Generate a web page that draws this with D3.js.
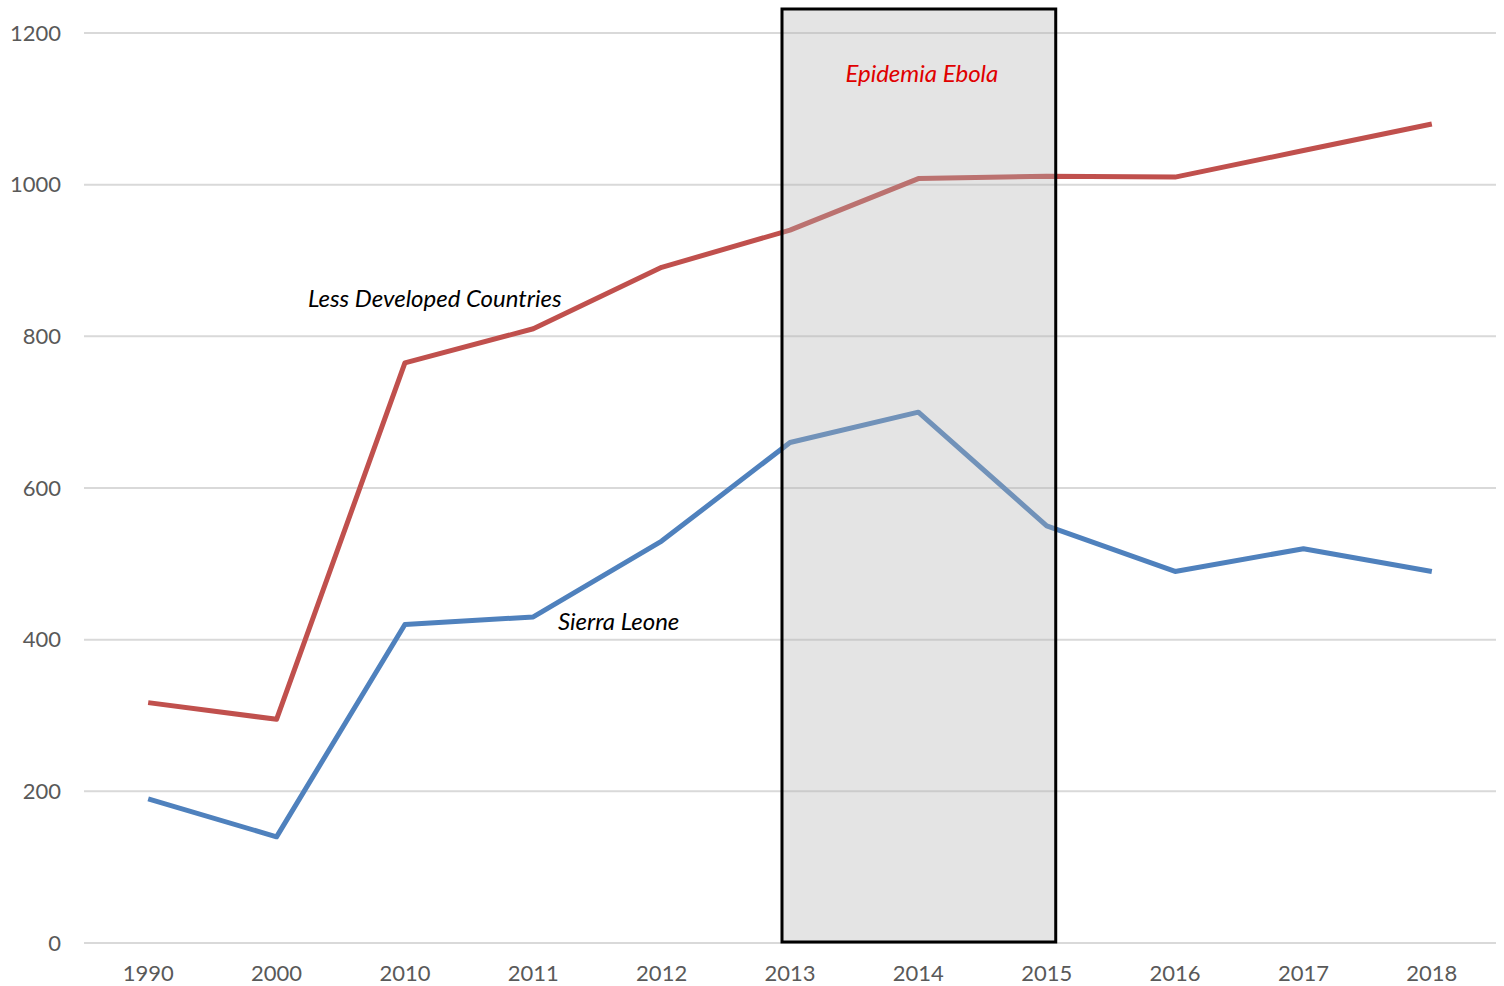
<!DOCTYPE html>
<html>
<head>
<meta charset="utf-8">
<script src="https://cdn.jsdelivr.net/npm/d3@7"></script>
<style>
  body { margin: 0; background: #fff; }
  svg { display: block; }
</style>
</head>
<body>
<script>
const years = ["1990", "2000", "2010", "2011", "2012", "2013", "2014", "2015", "2016", "2017", "2018"]
const ldc = [317, 295, 765, 810, 891, 940, 1008, 1011, 1010, 1045, 1080]
const sierraLeone = [190, 140, 420, 430, 530, 660, 700, 550, 490, 520, 490]
const yTicks = [0, 200, 400, 600, 800, 1000, 1200]
const ebolaYears = ["2013", "2015"]

const width = 1504
const height = 986
const margin = {top: 33, right: 8, bottom: 43, left: 84}

const svg = d3.select("body").append("svg").attr("width", width).attr("height", height)
  .style("font-family", "Lato, 'Open Sans', sans-serif")

const x = d3.scaleBand().domain(years).range([margin.left, width - margin.right])
const y = d3.scaleLinear().domain([0, 1200]).range([height - margin.bottom, margin.top])
const cx = (d) => x(d) + x.bandwidth() / 2

// gridlines
svg.append("g").selectAll("line").data(yTicks).join("line")
  .attr("x1", margin.left).attr("x2", width - margin.right)
  .attr("y1", (d) => y(d)).attr("y2", (d) => y(d))
  .attr("stroke", "#d9d9d9").attr("stroke-width", 2)

// y labels
svg.append("g").selectAll("text").data(yTicks).join("text")
  .attr("x", 61).attr("y", (d) => y(d)).attr("dy", "0.35em")
  .attr("text-anchor", "end").attr("fill", "#595959").style("font-size", "22px")
  .text((d) => d)

// x labels
svg.append("g").selectAll("text").data(years).join("text")
  .attr("x", cx).attr("y", 973).attr("dy", "0.35em")
  .attr("text-anchor", "middle").attr("fill", "#595959").style("font-size", "22px")
  .text((d) => d)

const line = d3.line().x((d, i) => cx(years[i])).y((d) => y(d))

svg.append("path").datum(ldc).attr("d", line)
  .attr("fill", "none").attr("stroke", "#c0504d").attr("stroke-width", 5).attr("stroke-linejoin", "round")
svg.append("path").datum(sierraLeone).attr("d", line)
  .attr("fill", "none").attr("stroke", "#4f81bd").attr("stroke-width", 5).attr("stroke-linejoin", "round")

// Ebola box, drawn over the lines
const bx0 = cx(ebolaYears[0]) - 8
const bx1 = cx(ebolaYears[1]) + 9
svg.append("rect")
  .attr("x", bx0).attr("y", 9)
  .attr("width", bx1 - bx0).attr("height", y(0) - 1 - 9)
  .attr("fill", "#b2b2b2").attr("fill-opacity", 0.35)
  .attr("stroke", "#000").attr("stroke-width", 3)

svg.append("text").attr("x", (bx0 + bx1) / 2 + 3).attr("y", 82)
  .attr("text-anchor", "middle").attr("fill", "#e00000")
  .style("font-size", "24px").style("font-style", "italic")
  .text("Epidemia Ebola")

svg.append("text").attr("x", 308).attr("y", 307)
  .attr("fill", "#000").style("font-size", "24px").style("font-style", "italic")
  .text("Less Developed Countries")

svg.append("text").attr("x", 558).attr("y", 630)
  .attr("fill", "#000").style("font-size", "24px").style("font-style", "italic")
  .text("Sierra Leone")
</script>
</body>
</html>
